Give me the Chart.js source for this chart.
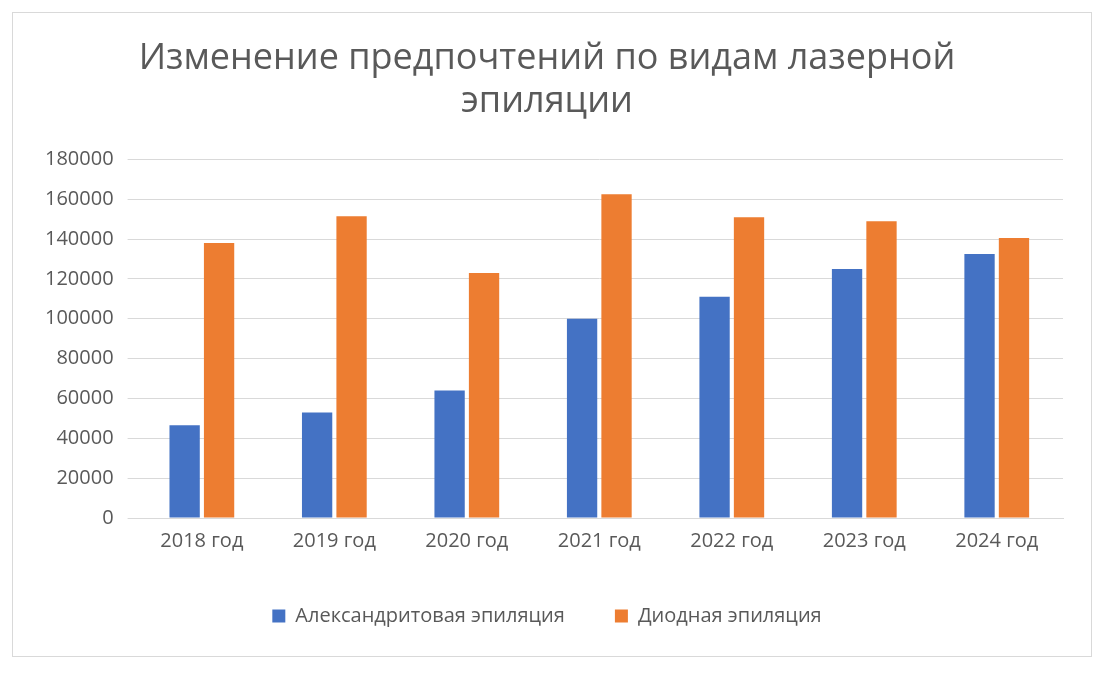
<!DOCTYPE html>
<html>
<head>
<meta charset="utf-8">
<script src="https://cdn.jsdelivr.net/npm/chart.js@4/dist/chart.umd.min.js"></script>
<style>
  body { margin: 0; background: #fff; }
  #wrap { position: absolute; left: 12px; top: 12px; width: 1080px; height: 645px; border: 1px solid #d9d9d9; box-sizing: border-box; }
</style>
</head>
<body>
<div id="wrap"><canvas id="chart"></canvas></div>
<script>
const years = ['2018 год', '2019 год', '2020 год', '2021 год', '2022 год', '2023 год', '2024 год'];
const alexValues = [46500, 53000, 64000, 100000, 111000, 125000, 132500];
const diodeValues = [138000, 151500, 123000, 162500, 151000, 149000, 140500];

new Chart(document.getElementById('chart'), {
  type: 'bar',
  data: {
    labels: years,
    datasets: [
      { label: 'Александритовая эпиляция', data: alexValues, backgroundColor: '#4472c4', categoryPercentage: 0.52, barPercentage: 0.88 },
      { label: 'Диодная эпиляция', data: diodeValues, backgroundColor: '#ed7d31', categoryPercentage: 0.52, barPercentage: 0.88 },
    ],
  },
  options: {
    responsive: true,
    maintainAspectRatio: false,
    animation: false,
    layout: { padding: { left: 18, right: 28, top: 24, bottom: 20 } },
    plugins: {
      title: {
        display: true,
        text: ['Изменение предпочтений по видам лазерной', 'эпиляции'],
        color: '#595959',
        font: { family: 'Open Sans', size: 36, weight: 'normal' },
        padding: { bottom: 36 },
        lineHeight: 1.4,
      },
      legend: {
        position: 'bottom',
        labels: { color: '#595959', font: { family: 'Open Sans', size: 20 }, boxWidth: 13, boxHeight: 13, padding: 50 },
      },
    },
    scales: {
      x: {
        grid: { display: false },
        border: { color: '#d9d9d9' },
        ticks: { color: '#595959', font: { family: 'Open Sans', size: 20 } },
      },
      y: {
        min: 0, max: 180000,
        ticks: { stepSize: 20000, color: '#595959', font: { family: 'Open Sans', size: 20 }, padding: 14, callback: (v) => String(v) },
        grid: { color: '#d9d9d9' },
        border: { display: false },
      },
    },
  },
});
</script>
</body>
</html>
